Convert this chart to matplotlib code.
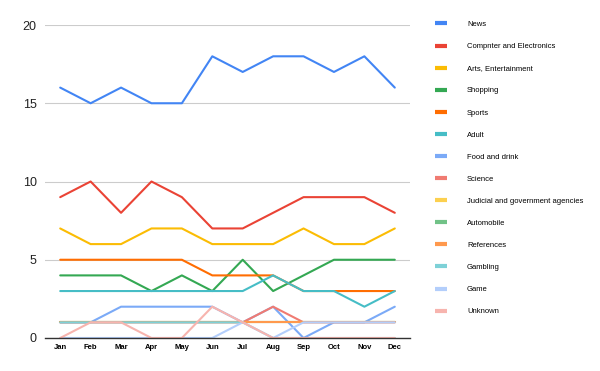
import matplotlib.pyplot as plt

plt.rcParams['font.family'] = ['Liberation Sans', 'DejaVu Sans']

months = ['Jan', 'Feb', 'Mar', 'Apr', 'May', 'Jun', 'Jul', 'Aug', 'Sep', 'Oct', 'Nov', 'Dec']

news = [16, 15, 16, 15, 15, 18, 17, 18, 18, 17, 18, 16]
computer = [9, 10, 8, 10, 9, 7, 7, 8, 9, 9, 9, 8]
arts = [7, 6, 6, 7, 7, 6, 6, 6, 7, 6, 6, 7]
shopping = [4, 4, 4, 3, 4, 3, 5, 3, 4, 5, 5, 5]
sports = [5, 5, 5, 5, 5, 4, 4, 4, 3, 3, 3, 3]
adult = [3, 3, 3, 3, 3, 3, 3, 4, 3, 3, 2, 3]
food = [1, 1, 2, 2, 2, 2, 1, 2, 0, 1, 1, 2]
science = [1, 1, 1, 1, 1, 1, 1, 2, 1, 1, 1, 1]
judicial = [1, 1, 1, 1, 1, 1, 1, 1, 1, 1, 1, 1]
automobile = [1, 1, 1, 1, 1, 1, 1, 1, 1, 1, 1, 1]
references = [1, 1, 1, 1, 1, 1, 1, 1, 1, 1, 1, 1]
gambling = [1, 1, 1, 1, 1, 1, 1, 0, 0, 0, 0, 0]
game = [0, 0, 0, 0, 0, 0, 1, 0, 1, 1, 1, 1]
unknown = [0, 1, 1, 0, 0, 2, 1, 0, 0, 0, 0, 0]

names = ['News', 'Compnter and Electronics', 'Arts, Entertainment', 'Shopping', 'Sports',
         'Adult', 'Food and drink', 'Science', 'Judicial and government agencies',
         'Automobile', 'References', 'Gambling', 'Game', 'Unknown']
series = [news, computer, arts, shopping, sports, adult, food, science, judicial,
          automobile, references, gambling, game, unknown]
colors = ['#4285F4', '#EA4335', '#FBBC04', '#34A853', '#FF6D01', '#46BDC6', '#7BAAF7',
          '#F07B72', '#FCD04F', '#71C287', '#FF994D', '#7ED1D7', '#B3CEFB', '#F7B4AE']

fig = plt.figure(figsize=(6, 3.71), dpi=100)
ax = fig.add_axes([45 / 600, 33 / 371, 365 / 600, 313 / 371])

x = list(range(len(months)))
lines = []
for vals, name, c in zip(series, names, colors):
    ln, = ax.plot(x, vals, color=c, lw=1.5, label=name, solid_capstyle='round')
    lines.append(ln)

ax.set_xlim(-0.5, 11.5)
ax.set_ylim(0, 20)
ax.set_yticks([0, 5, 10, 15, 20])
ax.set_xticks(x)
ax.set_xticklabels(months, fontsize=5.5, fontweight='bold')
ax.tick_params(axis='y', length=0, labelsize=9, pad=6, colors='#222222')
ax.tick_params(axis='x', length=0, pad=4)
ax.grid(axis='y', color='#cccccc', lw=0.8)
for s in ['top', 'right', 'left']:
    ax.spines[s].set_visible(False)
ax.spines['bottom'].set_color('#333333')
ax.spines['bottom'].set_linewidth(1.0)
ax.set_axisbelow(True)

leg = ax.legend(handles=lines, loc='upper left', bbox_to_anchor=(431 / 600, 1 - 17 / 371),
                bbox_transform=fig.transFigure, frameon=False, fontsize=5.5,
                handlelength=1.6, handletextpad=2.6, labelspacing=1.93, borderpad=0)
for h in leg.get_lines():
    h.set_linewidth(3)
    h.set_solid_capstyle('butt')

fig.savefig('out.png', dpi=100)
